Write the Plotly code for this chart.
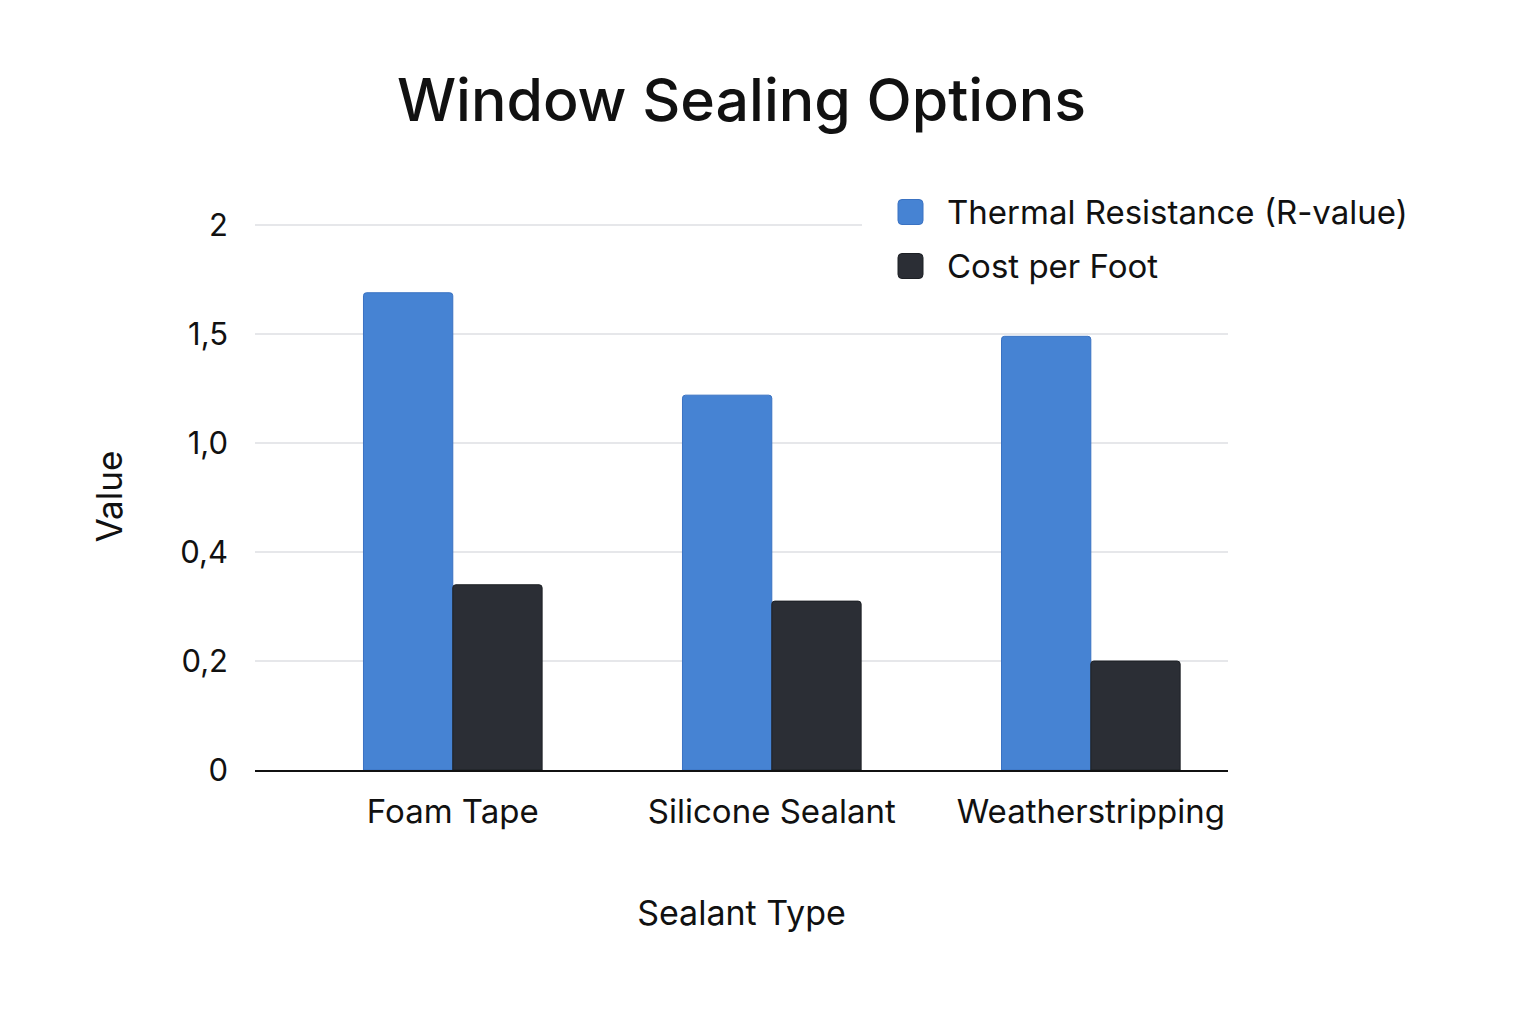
import numpy as np
import plotly.graph_objects as go

categories = ["Foam Tape", "Silicone Sealant", "Weatherstripping"]
thermal_resistance = [1.69, 1.22, 1.49]
cost_per_foot = [0.34, 0.31, 0.20]
tick_values = [0, 0.2, 0.4, 1.0, 1.5, 2.0]
tick_labels = ["0", "0,2", "0,4", "1,0", "1,5", "2"]
series_names = ["Thermal Resistance (R-value)", "Cost per Foot"]
series_colors = ["#4683d3", "#2b2e35"]
series_borders = ["#3a72c2", "#1d2025"]

# Axis uses evenly spaced (non-linear) tick positions, as in the original
tick_pos = list(range(len(tick_values)))


def to_axis(vals):
    return np.interp(vals, tick_values, tick_pos)


FONT = "Inter"
W, H = 1536, 1024
OFF = 8  # page body margin
L, R, T, B = 247, 316, 215, 262
PW, PH = W - L - R, H - T - B


def px_x(px):
    return (px - OFF - L) / PW


def px_y(py):
    return (H - B - (py - OFF)) / PH


def rounded_square(x0, y0, x1, y1, r):
    # pixel coords (page) -> paper path with rounded corners
    X = lambda v: px_x(v)
    Y = lambda v: px_y(v)
    return (f"M {X(x0 + r)},{Y(y0)} L {X(x1 - r)},{Y(y0)} Q {X(x1)},{Y(y0)} {X(x1)},{Y(y0 + r)} "
            f"L {X(x1)},{Y(y1 - r)} Q {X(x1)},{Y(y1)} {X(x1 - r)},{Y(y1)} "
            f"L {X(x0 + r)},{Y(y1)} Q {X(x0)},{Y(y1)} {X(x0)},{Y(y1 - r)} "
            f"L {X(x0)},{Y(y0 + r)} Q {X(x0)},{Y(y0)} {X(x0 + r)},{Y(y0)} Z")


fig = go.Figure()
for name, vals, col, bcol in zip(series_names, [thermal_resistance, cost_per_foot],
                                 series_colors, series_borders):
    fig.add_trace(go.Bar(
        x=categories, y=to_axis(vals), name=name,
        marker=dict(color=col, line=dict(color=bcol, width=1), cornerradius=3),
        customdata=vals,
        hovertemplate="%{x}<br>" + name + ": %{customdata}<extra></extra>",
        showlegend=False,
    ))

shapes = []
annotations = []
# cover the top gridline where the legend sits
shapes.append(dict(type="rect", xref="paper", yref="paper",
                   x0=px_x(862), x1=px_x(1240), y0=px_y(232), y1=px_y(216),
                   fillcolor="white", line=dict(width=0), layer="above"))
legend_y = [212, 266]
for name, col, bcol, cy in zip(series_names, series_colors, series_borders, legend_y):
    shapes.append(dict(type="path", xref="paper", yref="paper",
                       path=rounded_square(898, cy - 12.5, 923, cy + 12.5, 4),
                       fillcolor=col, line=dict(color=bcol, width=1), layer="above"))
    annotations.append(dict(text=name, xref="paper", yref="paper",
                            x=px_x(945), y=px_y(cy), xanchor="left", yanchor="middle",
                            showarrow=False,
                            font=dict(family=FONT, size=33, color="#111111")))

fig.update_layout(
    width=W, height=H,
    margin=dict(l=L, r=R, t=T, b=B, autoexpand=False),
    paper_bgcolor="white", plot_bgcolor="white",
    font=dict(family=FONT, color="#111111"),
    title=dict(text="Window Sealing Options", x=0.5, xref="paper",
               y=1 - 92 / H, yref="container", yanchor="middle", xanchor="center",
               font=dict(family=FONT, size=59, color="#111111", weight=500)),
    barmode="group", bargap=0.44, bargroupgap=0.0,
    showlegend=False,
    shapes=shapes, annotations=annotations,
)
fig.update_xaxes(
    type="category", range=[-0.62, 2.43],
    showline=True, linecolor="#111111", linewidth=2,
    showgrid=False, ticks="", ticklabelstandoff=11,
    tickfont=dict(family=FONT, size=33, color="#111111"),
    title=dict(text="Sealant Type", standoff=72,
               font=dict(family=FONT, size=34, color="#111111")),
)
fig.update_yaxes(
    range=[0, 5.02], tickmode="array", tickvals=tick_pos, ticktext=tick_labels,
    showline=False, zeroline=False, showgrid=True,
    gridcolor="#e6e7ea", gridwidth=1.5, ticks="", ticklabelstandoff=26,
    tickfont=dict(family=FONT, size=31, color="#111111"),
    title=dict(text="Value", standoff=47,
               font=dict(family=FONT, size=35, color="#111111")),
)

fig.write_html("out.html")
